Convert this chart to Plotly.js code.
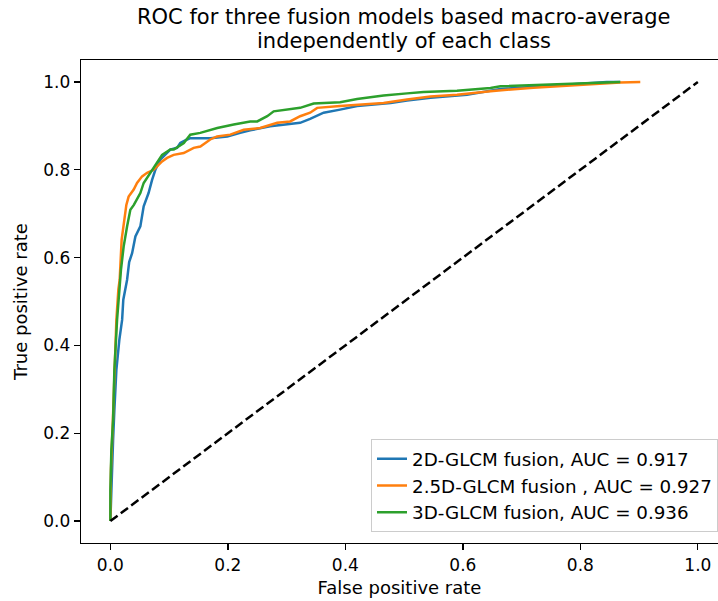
<!DOCTYPE html>
<html>
<head>
<meta charset="utf-8">
<script src="https://cdn.plot.ly/plotly-3.0.1.min.js"></script>
<style>html,body{margin:0;padding:0;background:#fff;}#chart{width:718px;height:601px;}</style>
</head>
<body>
<div id="chart"></div>
<script>
// 2D-GLCM fusion (blue)
const fpr2D = [0, 0.0017, 0.0046, 0.0068, 0.0102, 0.0153, 0.020, 0.022, 0.0255, 0.0284, 0.032, 0.037, 0.0426, 0.051, 0.0567, 0.065, 0.071, 0.0766, 0.085, 0.0965, 0.102, 0.1135, 0.119, 0.1306, 0.136, 0.170, 0.199, 0.221, 0.238, 0.272, 0.295, 0.323, 0.340, 0.363, 0.391, 0.420, 0.477, 0.505, 0.545, 0.607, 0.664, 0.777, 0.845, 0.868];
const tpr2D = [0, 0.093, 0.184, 0.253, 0.344, 0.413, 0.458, 0.504, 0.527, 0.549, 0.590, 0.610, 0.648, 0.671, 0.717, 0.747, 0.777, 0.800, 0.823, 0.838, 0.846, 0.850, 0.861, 0.869, 0.872, 0.872, 0.876, 0.884, 0.890, 0.899, 0.903, 0.907, 0.916, 0.930, 0.937, 0.945, 0.952, 0.958, 0.964, 0.971, 0.984, 0.994, 1.0, 1.0];

// 2.5D-GLCM fusion (orange)
const fpr25D = [0, 0.0, 0.001, 0.0043, 0.0068, 0.0102, 0.0136, 0.0158, 0.0192, 0.0226, 0.0272, 0.0311, 0.0397, 0.0454, 0.054, 0.0625, 0.0737, 0.088, 0.0965, 0.1077, 0.1248, 0.1418, 0.1532, 0.170, 0.1816, 0.204, 0.227, 0.255, 0.284, 0.306, 0.323, 0.340, 0.352, 0.391, 0.420, 0.465, 0.505, 0.545, 0.590, 0.647, 0.720, 0.777, 0.834, 0.868, 0.902];
const tpr25D = [0, 0.048, 0.116, 0.230, 0.344, 0.458, 0.527, 0.549, 0.641, 0.679, 0.720, 0.739, 0.755, 0.770, 0.785, 0.793, 0.800, 0.819, 0.827, 0.834, 0.838, 0.850, 0.853, 0.869, 0.876, 0.880, 0.891, 0.895, 0.907, 0.910, 0.922, 0.930, 0.941, 0.945, 0.948, 0.952, 0.960, 0.967, 0.971, 0.979, 0.987, 0.992, 0.996, 0.999, 1.0];

// 3D-GLCM fusion (green)
const fpr3D = [0, 0.0, 0.0017, 0.0046, 0.0068, 0.0114, 0.018, 0.0226, 0.0284, 0.034, 0.040, 0.051, 0.0567, 0.068, 0.0795, 0.088, 0.102, 0.108, 0.125, 0.136, 0.153, 0.182, 0.210, 0.238, 0.250, 0.267, 0.278, 0.306, 0.323, 0.346, 0.391, 0.420, 0.465, 0.505, 0.533, 0.590, 0.647, 0.664, 0.777, 0.862, 0.868];
const tpr3D = [0, 0.070, 0.162, 0.230, 0.344, 0.458, 0.572, 0.625, 0.671, 0.709, 0.720, 0.747, 0.770, 0.793, 0.819, 0.834, 0.846, 0.846, 0.861, 0.880, 0.884, 0.895, 0.903, 0.910, 0.910, 0.922, 0.933, 0.937, 0.941, 0.951, 0.954, 0.961, 0.969, 0.974, 0.977, 0.980, 0.986, 0.990, 0.996, 0.999, 1.0];

// chance diagonal
const chanceX = [0, 1];
const chanceY = [0, 1];

const seriesNames = ['2D-GLCM fusion, AUC = 0.917', '2.5D-GLCM fusion , AUC = 0.927', '3D-GLCM fusion, AUC = 0.936'];
const titleLines = ['ROC for three fusion models based macro-average', 'independently of each class'];
const tickVals = [0, 0.2, 0.4, 0.6, 0.8, 1.0];
const tickText = ['0.0', '0.2', '0.4', '0.6', '0.8', '1.0'];

const FONT = 'DejaVu Sans, sans-serif';
const LW = 2.5;

const traces = [
  {x: fpr2D, y: tpr2D, type: 'scatter', mode: 'lines', name: seriesNames[0], line: {color: '#1f77b4', width: LW}},
  {x: fpr25D, y: tpr25D, type: 'scatter', mode: 'lines', name: seriesNames[1], line: {color: '#ff7f0e', width: LW}},
  {x: fpr3D, y: tpr3D, type: 'scatter', mode: 'lines', name: seriesNames[2], line: {color: '#2ca02c', width: LW}},
  {x: chanceX, y: chanceY, type: 'scatter', mode: 'lines', showlegend: false, line: {color: '#000000', width: LW, dash: '9px,4px'}}
];

const axisCommon = {
  showline: true, linecolor: '#000', linewidth: 1.3,
  ticks: 'outside', ticklen: 6, tickwidth: 1.3, tickcolor: '#000',
  showgrid: false, zeroline: false,
  tickvals: tickVals, ticktext: tickText,
  tickfont: {family: FONT, size: 17, color: '#000'}
};

const layout = {
  width: 718, height: 601,
  margin: {l: 81, r: 0, t: 60, b: 58},
  paper_bgcolor: '#fff', plot_bgcolor: '#fff',
  font: {family: FONT, color: '#000'},
  annotations: [
    {text: titleLines[0], xref: 'paper', yref: 'paper', x: 0.507, y: 1.089, xanchor: 'center', yanchor: 'middle', showarrow: false, font: {family: FONT, size: 21, color: '#000'}},
    {text: titleLines[1], xref: 'paper', yref: 'paper', x: 0.507, y: 1.0385, xanchor: 'center', yanchor: 'middle', showarrow: false, font: {family: FONT, size: 21, color: '#000'}}
  ],
  xaxis: Object.assign({}, axisCommon, {
    range: [-0.05, 1.0343], mirror: true,
    title: {text: 'False positive rate', font: {family: FONT, size: 18, color: '#000'}, standoff: 7}
  }),
  yaxis: Object.assign({}, axisCommon, {
    range: [-0.05, 1.05], mirror: false,
    title: {text: 'True positive rate', font: {family: FONT, size: 18, color: '#000'}, standoff: 11}
  }),
  legend: {
    x: 1, xanchor: 'right', y: 0.022, yanchor: 'bottom',
    bgcolor: 'rgba(255,255,255,0.8)', bordercolor: '#cccccc', borderwidth: 1,
    font: {family: FONT, size: 18.3, color: '#000'}
  },
  showlegend: true
};

Plotly.newPlot('chart', traces, layout, {displayModeBar: false, staticPlot: true});
</script>
</body>
</html>
